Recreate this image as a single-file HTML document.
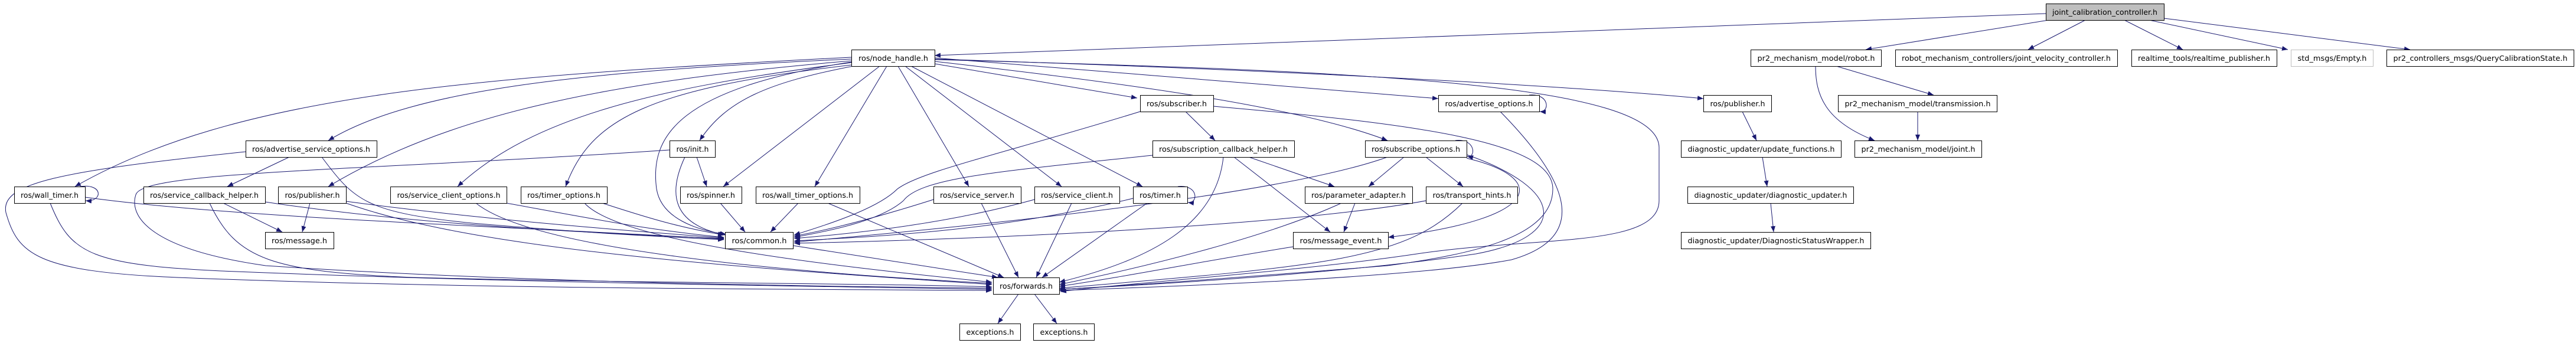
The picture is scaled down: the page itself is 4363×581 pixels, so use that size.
<!DOCTYPE html>
<html><head><meta charset="utf-8"><style>
html,body{margin:0;padding:0;background:#fff;}
svg{display:block;}
text{font-family:"DejaVu Sans","Liberation Sans",sans-serif;font-size:12px;fill:#000;}
.e{fill:none;stroke:#191970;stroke-width:1;}
</style></head><body>
<svg width="4363" height="581" viewBox="0 0 4363 581" xmlns="http://www.w3.org/2000/svg">
<defs><marker id="a" markerWidth="10" markerHeight="8" refX="10" refY="4" orient="auto" markerUnits="userSpaceOnUse"><path d="M0,0L10,4L0,8z" fill="#191970"/></marker></defs>
<g class="e" marker-end="url(#a)">
<path d="M3465,23 L1583,94"/>
<path d="M3470,34 L3160,84"/>
<path d="M3532,34 L3435,84"/>
<path d="M3598,34 L3697,84"/>
<path d="M3640,34 L3875,84"/>
<path d="M3665,31 L4082,84"/>
<path d="M3110,112 L3275,161"/>
<path d="M3075,112 C3075,160 3090,205 3175,238"/>
<path d="M3248,189 L3248,238"/>
<path d="M2951,189 L2975,238"/>
<path d="M2985,266 L2993,316"/>
<path d="M2999,344 L3004,393"/>
<path d="M1442,100 C1000,120 700,150 556,238"/>
<path d="M1442,97 C800,130 400,160 127,316"/>
<path d="M1442,103 C1000,140 750,200 556,316"/>
<path d="M1442,106 C1100,150 900,200 775,316"/>
<path d="M1442,110 C1100,150 1000,200 958,316"/>
<path d="M1442,105 C1150,150 1100,230 1112,320 C1120,370 1180,390 1230,397"/>
<path d="M1445,112 C1300,140 1230,170 1185,238"/>
<path d="M1490,112 L1225,316"/>
<path d="M1502,112 L1380,316"/>
<path d="M1521,112 L1641,316"/>
<path d="M1533,112 L1798,316"/>
<path d="M1543,112 L1935,316"/>
<path d="M1583,108 L1926,166"/>
<path d="M1583,104 C1900,140 2200,180 2350,238"/>
<path d="M1583,98 L2436,167"/>
<path d="M1583,100 C2200,120 2650,145 2885,167"/>
<path d="M1583,101 C2300,120 2810,140 2810,250 L2810,340 C2810,420 2600,400 2400,430 C2200,460 1900,480 1796,494"/>
<path d="M144,334 C400,370 900,385 1226,405"/>
<path d="M449,342 C700,380 1000,395 1226,404"/>
<path d="M586,341 C800,370 1050,390 1226,403"/>
<path d="M545,266 C600,340 620,360 800,378 C1000,395 1100,400 1226,406"/>
<path d="M858,344 C1000,370 1100,390 1226,402"/>
<path d="M1020,344 C1100,370 1150,385 1226,398"/>
<path d="M1160,266 C1130,330 1140,380 1228,398"/>
<path d="M1220,344 L1262,393"/>
<path d="M1352,344 L1305,393"/>
<path d="M1581,338 C1480,370 1400,390 1345,400"/>
<path d="M1752,338 C1600,380 1450,395 1345,404"/>
<path d="M1919,336 C1700,390 1500,400 1345,408"/>
<path d="M1931,189 C1700,260 1560,290 1520,320 C1490,350 1420,375 1345,398"/>
<path d="M1952,263 C1700,290 1560,300 1530,340 C1490,375 1400,392 1345,402"/>
<path d="M2350,266 C2200,320 1800,370 1345,410"/>
<path d="M2415,340 C2200,380 1700,405 1345,412"/>
<path d="M85,344 C120,430 150,450 400,460 C900,480 1400,485 1680,490"/>
<path d="M416,257 C100,290 0,310 10,360 C30,430 60,460 300,470 C800,490 1400,490 1680,492"/>
<path d="M1134,254 C600,290 240,290 230,330 C220,360 240,420 450,450 C900,480 1400,485 1680,488"/>
<path d="M355,344 C400,440 460,460 700,470 C1100,480 1500,480 1680,486"/>
<path d="M586,344 C800,420 1200,450 1680,482"/>
<path d="M806,344 C900,420 1300,460 1680,480"/>
<path d="M990,344 C1050,410 1400,450 1680,478"/>
<path d="M1343,416 L1690,470"/>
<path d="M1402,344 L1700,470"/>
<path d="M1662,344 L1725,470"/>
<path d="M1815,344 L1755,470"/>
<path d="M1943,344 L1765,470"/>
<path d="M2072,266 C2060,380 1950,440 1794,478"/>
<path d="M2272,344 C2150,400 1950,450 1794,482"/>
<path d="M2190,418 C2050,440 1900,470 1794,485"/>
<path d="M2477,344 C2380,440 2250,450 1794,488"/>
<path d="M2484,262 C2650,320 2660,400 2500,430 C2300,460 2000,480 1794,490"/>
<path d="M2541,189 C2650,300 2700,400 2560,440 C2400,470 2000,485 1794,492"/>
<path d="M2055,180 C2400,210 2630,240 2630,320 C2630,400 2500,430 2350,450 C2100,470 1900,485 1794,490"/>
<path d="M2115,266 L2260,316"/>
<path d="M2090,266 L2253,393"/>
<path d="M2378,266 L2318,316"/>
<path d="M2415,266 L2478,316"/>
<path d="M2295,344 L2276,393"/>
<path d="M2484,268 C2620,300 2620,370 2351,402"/>
<path d="M2008,189 L2058,238"/>
<path d="M378,344 L478,393"/>
<path d="M525,344 L512,393"/>
<path d="M490,266 L385,316"/>
<path d="M1180,266 L1197,316"/>
<path d="M1725,498 L1690,548"/>
<path d="M1752,498 L1790,548"/>
<path d="M135,316 C175,310 175,342 145,340"/>
<path d="M2590,161 C2625,158 2625,190 2608,189"/>
<path d="M2465,238 C2500,234 2500,268 2485,265"/>
<path d="M1995,316 C2030,312 2030,345 2012,343"/>
</g>
<g stroke="#000" stroke-width="1" fill="#fff">
<rect x="3465.5" y="6.5" width="200" height="28" fill="#bfbfbf"/>
<rect x="1442.5" y="84.5" width="141" height="28"/>
<rect x="2965.5" y="84.5" width="221" height="28"/>
<rect x="3210.5" y="84.5" width="376" height="28"/>
<rect x="3610.5" y="84.5" width="246" height="28"/>
<rect x="3880.5" y="84.5" width="139" height="28" stroke="#bfbfbf"/>
<rect x="4042.5" y="84.5" width="317" height="28"/>
<rect x="1931.5" y="161.5" width="124" height="28"/>
<rect x="2436.5" y="161.5" width="171" height="28"/>
<rect x="2885.5" y="161.5" width="115" height="28"/>
<rect x="3113.5" y="161.5" width="269" height="28"/>
<rect x="416.5" y="238.5" width="222" height="28"/>
<rect x="1134.5" y="238.5" width="77" height="28"/>
<rect x="1952.5" y="238.5" width="240" height="28"/>
<rect x="2312.5" y="238.5" width="172" height="28"/>
<rect x="2847.5" y="238.5" width="271" height="28"/>
<rect x="3141.5" y="238.5" width="215" height="28"/>
<rect x="24.5" y="316.5" width="120" height="28"/>
<rect x="243.5" y="316.5" width="206" height="28"/>
<rect x="471.5" y="316.5" width="115" height="28"/>
<rect x="661.5" y="316.5" width="197" height="28"/>
<rect x="882.5" y="316.5" width="146" height="28"/>
<rect x="1152.5" y="316.5" width="104" height="28"/>
<rect x="1280.5" y="316.5" width="176" height="28"/>
<rect x="1581.5" y="316.5" width="148" height="28"/>
<rect x="1752.5" y="316.5" width="144" height="28"/>
<rect x="1919.5" y="316.5" width="92" height="28"/>
<rect x="2210.5" y="316.5" width="182" height="28"/>
<rect x="2415.5" y="316.5" width="155" height="28"/>
<rect x="2858.5" y="316.5" width="281" height="28"/>
<rect x="449.5" y="393.5" width="116" height="28"/>
<rect x="1228.5" y="393.5" width="115" height="28"/>
<rect x="2190.5" y="393.5" width="161" height="28"/>
<rect x="2847.5" y="393.5" width="321" height="28"/>
<rect x="1682.5" y="470.5" width="112" height="28"/>
<rect x="1625.5" y="548.5" width="103" height="28"/>
<rect x="1750.5" y="548.5" width="103" height="28"/>
</g>
<g text-anchor="middle">
<text x="3565" y="25" textLength="178" lengthAdjust="spacingAndGlyphs">joint_calibration_controller.h</text>
<text x="1513" y="103" textLength="118" lengthAdjust="spacingAndGlyphs">ros/node_handle.h</text>
<text x="3076" y="103" textLength="199" lengthAdjust="spacingAndGlyphs">pr2_mechanism_model/robot.h</text>
<text x="3398" y="103" textLength="354" lengthAdjust="spacingAndGlyphs">robot_mechanism_controllers/joint_velocity_controller.h</text>
<text x="3733" y="103" textLength="224" lengthAdjust="spacingAndGlyphs">realtime_tools/realtime_publisher.h</text>
<text x="3950" y="103" textLength="117" lengthAdjust="spacingAndGlyphs">std_msgs/Empty.h</text>
<text x="4201" y="103" textLength="295" lengthAdjust="spacingAndGlyphs">pr2_controllers_msgs/QueryCalibrationState.h</text>
<text x="1993" y="180" textLength="102" lengthAdjust="spacingAndGlyphs">ros/subscriber.h</text>
<text x="2522" y="180" textLength="149" lengthAdjust="spacingAndGlyphs">ros/advertise_options.h</text>
<text x="2943" y="180" textLength="93" lengthAdjust="spacingAndGlyphs">ros/publisher.h</text>
<text x="3248" y="180" textLength="247" lengthAdjust="spacingAndGlyphs">pr2_mechanism_model/transmission.h</text>
<text x="527" y="257" textLength="200" lengthAdjust="spacingAndGlyphs">ros/advertise_service_options.h</text>
<text x="1173" y="257" textLength="55" lengthAdjust="spacingAndGlyphs">ros/init.h</text>
<text x="2072" y="257" textLength="218" lengthAdjust="spacingAndGlyphs">ros/subscription_callback_helper.h</text>
<text x="2398" y="257" textLength="150" lengthAdjust="spacingAndGlyphs">ros/subscribe_options.h</text>
<text x="2983" y="257" textLength="249" lengthAdjust="spacingAndGlyphs">diagnostic_updater/update_functions.h</text>
<text x="3249" y="257" textLength="193" lengthAdjust="spacingAndGlyphs">pr2_mechanism_model/joint.h</text>
<text x="84" y="335" textLength="98" lengthAdjust="spacingAndGlyphs">ros/wall_timer.h</text>
<text x="346" y="335" textLength="184" lengthAdjust="spacingAndGlyphs">ros/service_callback_helper.h</text>
<text x="529" y="335" textLength="93" lengthAdjust="spacingAndGlyphs">ros/publisher.h</text>
<text x="760" y="335" textLength="175" lengthAdjust="spacingAndGlyphs">ros/service_client_options.h</text>
<text x="955" y="335" textLength="124" lengthAdjust="spacingAndGlyphs">ros/timer_options.h</text>
<text x="1204" y="335" textLength="82" lengthAdjust="spacingAndGlyphs">ros/spinner.h</text>
<text x="1368" y="335" textLength="154" lengthAdjust="spacingAndGlyphs">ros/wall_timer_options.h</text>
<text x="1655" y="335" textLength="126" lengthAdjust="spacingAndGlyphs">ros/service_server.h</text>
<text x="1824" y="335" textLength="122" lengthAdjust="spacingAndGlyphs">ros/service_client.h</text>
<text x="1965" y="335" textLength="70" lengthAdjust="spacingAndGlyphs">ros/timer.h</text>
<text x="2301" y="335" textLength="160" lengthAdjust="spacingAndGlyphs">ros/parameter_adapter.h</text>
<text x="2493" y="335" textLength="133" lengthAdjust="spacingAndGlyphs">ros/transport_hints.h</text>
<text x="2999" y="335" textLength="259" lengthAdjust="spacingAndGlyphs">diagnostic_updater/diagnostic_updater.h</text>
<text x="507" y="412" textLength="94" lengthAdjust="spacingAndGlyphs">ros/message.h</text>
<text x="1286" y="412" textLength="93" lengthAdjust="spacingAndGlyphs">ros/common.h</text>
<text x="2271" y="412" textLength="139" lengthAdjust="spacingAndGlyphs">ros/message_event.h</text>
<text x="3008" y="412" textLength="299" lengthAdjust="spacingAndGlyphs">diagnostic_updater/DiagnosticStatusWrapper.h</text>
<text x="1738" y="489" textLength="90" lengthAdjust="spacingAndGlyphs">ros/forwards.h</text>
<text x="1677" y="567" textLength="81" lengthAdjust="spacingAndGlyphs">exceptions.h</text>
<text x="1802" y="567" textLength="81" lengthAdjust="spacingAndGlyphs">exceptions.h</text>
</g>
</svg>
</body></html>
